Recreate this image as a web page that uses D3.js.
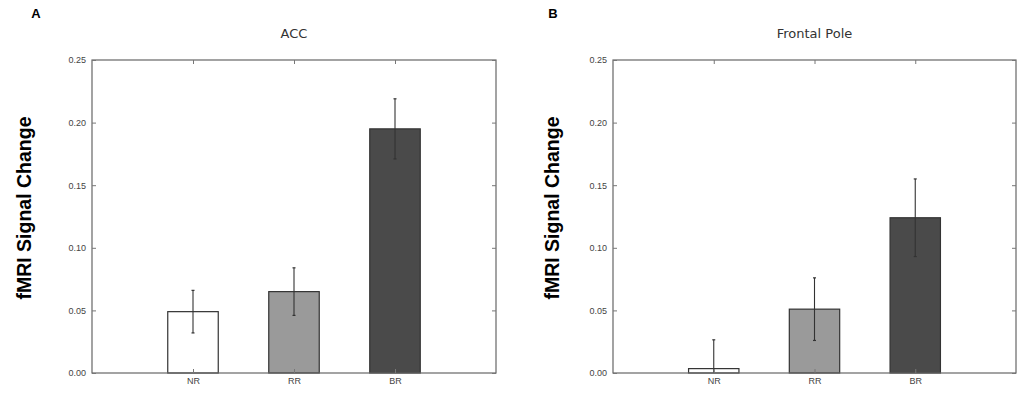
<!DOCTYPE html>
<html>
<head>
<meta charset="utf-8">
<script src="https://cdn.jsdelivr.net/npm/d3@7"></script>
<style>
  body { margin: 0; background: #fff; }
  svg { display: block; }
</style>
</head>
<body>
<script>
// data
const categories = ['NR', 'RR', 'BR'];
const barColors = ['#ffffff', '#9a9a9a', '#4a4a4a'];
const yTicks = [0, 0.05, 0.10, 0.15, 0.20, 0.25];

const accValues = [0.049, 0.065, 0.195];
const accErrors = [0.017, 0.019, 0.024];

const fpValues = [0.0035, 0.051, 0.124];
const fpErrors = [0.023, 0.025, 0.031];

const panels = [
  { letter: 'A', title: 'ACC', values: accValues, errors: accErrors, left: 92, right: 496, labelX: 24, letterX: 36 },
  { letter: 'B', title: 'Frontal Pole', values: fpValues, errors: fpErrors, left: 613, right: 1016, labelX: 552, letterX: 553 }
];

const width = 1028;
const height = 396;
const plotTop = 60, plotBottom = 373;

const svg = d3.select('body').append('svg')
  .attr('width', width)
  .attr('height', height)
  .style('font-family', 'DejaVu Sans, sans-serif');

panels.forEach(p => {
  const x = d3.scaleLinear().domain([0, 4]).range([p.left, p.right]);
  const y = d3.scaleLinear().domain([0, 0.25]).range([plotBottom, plotTop]);
  const g = svg.append('g');

  // bars
  g.selectAll('rect.bar')
    .data(p.values)
    .enter().append('rect')
    .attr('class', 'bar')
    .attr('x', (d, i) => x(i + 1) - (x(1.25) - x(1)))
    .attr('width', x(1.5) - x(1))
    .attr('y', d => y(d))
    .attr('height', d => y(0) - y(d))
    .attr('fill', (d, i) => barColors[i])
    .attr('stroke', '#333')
    .attr('stroke-width', 1.2);

  // error bars (clipped to the axes)
  const errs = g.selectAll('g.err')
    .data(p.values.map((v, i) => ({ v, e: p.errors[i], i })))
    .enter().append('g')
    .attr('class', 'err');

  errs.append('line')
    .attr('x1', d => x(d.i + 1)).attr('x2', d => x(d.i + 1))
    .attr('y1', d => y(Math.max(0, d.v - d.e)))
    .attr('y2', d => y(d.v + d.e))
    .attr('stroke', '#333').attr('stroke-width', 1.1);

  errs.selectAll('line.cap')
    .data(d => [d.v + d.e, d.v - d.e].filter(v => v >= 0).map(v => ({ v, i: d.i })))
    .enter().append('line')
    .attr('class', 'cap')
    .attr('x1', d => x(d.i + 1) - 1.5).attr('x2', d => x(d.i + 1) + 1.5)
    .attr('y1', d => y(d.v)).attr('y2', d => y(d.v))
    .attr('stroke', '#333').attr('stroke-width', 1.2);

  // frame
  g.append('rect')
    .attr('x', p.left).attr('y', plotTop)
    .attr('width', p.right - p.left).attr('height', plotBottom - plotTop)
    .attr('fill', 'none')
    .attr('stroke', '#666')
    .attr('stroke-width', 1.2);

  // axes with inward ticks
  const yLeft = g.append('g')
    .attr('transform', `translate(${p.left},0)`)
    .call(d3.axisLeft(y).tickValues(yTicks).tickFormat(d3.format('.2f')).tickSizeInner(-4).tickSizeOuter(0).tickPadding(6));
  const yRight = g.append('g')
    .attr('transform', `translate(${p.right},0)`)
    .call(d3.axisRight(y).tickValues(yTicks).tickFormat('').tickSizeInner(-4).tickSizeOuter(0));
  const xBottom = g.append('g')
    .attr('transform', `translate(0,${plotBottom})`)
    .call(d3.axisBottom(x).tickValues([1, 2, 3]).tickFormat((d, i) => categories[i]).tickSizeInner(-4).tickSizeOuter(0).tickPadding(5));
  const xTop = g.append('g')
    .attr('transform', `translate(0,${plotTop})`)
    .call(d3.axisTop(x).tickValues([1, 2, 3]).tickFormat('').tickSizeInner(-4).tickSizeOuter(0));

  [yLeft, yRight, xBottom, xTop].forEach(a => {
    a.select('.domain').remove();
    a.selectAll('line').attr('stroke', '#777');
    a.selectAll('text').attr('fill', '#444').style('font-size', '9px');
  });

  // titles and labels
  g.append('text')
    .attr('x', (p.left + p.right) / 2).attr('y', 38)
    .attr('text-anchor', 'middle')
    .attr('fill', '#333')
    .style('font-size', '13px')
    .text(p.title);

  g.append('text')
    .attr('x', p.letterX).attr('y', 18)
    .attr('text-anchor', 'middle')
    .style('font-size', '13px')
    .style('font-weight', 'bold')
    .style('font-family', 'Liberation Sans, Arial, sans-serif')
    .text(p.letter);

  g.append('text')
    .attr('transform', `translate(${p.labelX},208) rotate(-90)`)
    .attr('text-anchor', 'middle')
    .attr('dy', '0.35em')
    .style('font-size', '19.5px')
    .style('font-weight', 'bold')
    .style('font-family', 'Liberation Sans, Arial, sans-serif')
    .text('fMRI Signal Change');
});
</script>
</body>
</html>
